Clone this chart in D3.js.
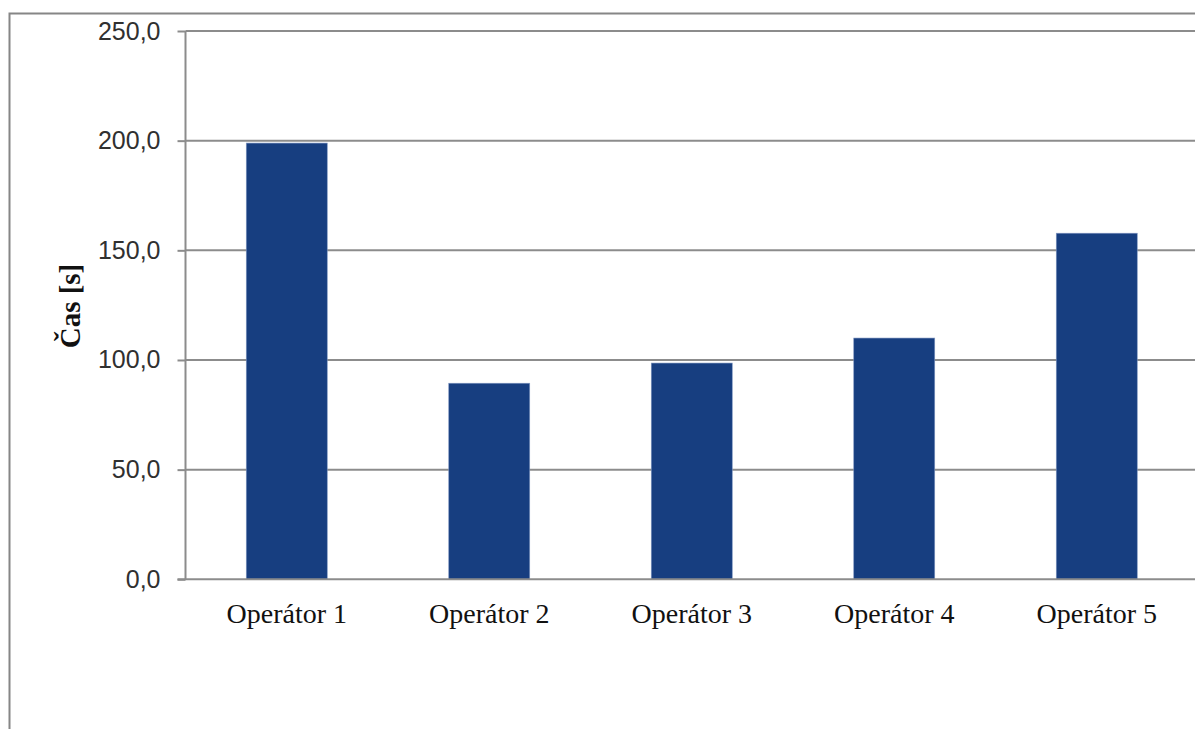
<!DOCTYPE html>
<html><head><meta charset="utf-8">
<script src="https://cdn.jsdelivr.net/npm/d3@7"></script>
<style>html,body{margin:0;padding:0;background:#fff;overflow:hidden}</style>
</head><body>
<svg id="c" width="1195" height="729"></svg>
<script>
const categories = ["Operátor 1","Operátor 2","Operátor 3","Operátor 4","Operátor 5"];
const values = [198.9, 89.4, 98.6, 110.0, 157.8];
const yTicks = [0, 50, 100, 150, 200, 250];
const yTitle = "Čas [s]";

const svg = d3.select("#c");
const pLeft = 185.5, pRight = 1198, pTop = 31, pBottom = 579.3;

svg.append("rect").attr("x",9.5).attr("y",13.5).attr("width",1200).attr("height",730)
  .attr("fill","#fff").attr("stroke","#868686").attr("stroke-width",2);

const x = d3.scaleBand().domain(categories).range([pLeft,pRight]).paddingInner(0.6).paddingOuter(0.3);
const y = d3.scaleLinear().domain([0,250]).range([pBottom,pTop]);

// gridlines
svg.append("g").selectAll("line").data(yTicks.filter(d=>d>0)).join("line")
  .attr("x1",pLeft).attr("x2",1195).attr("y1",d=>y(d)).attr("y2",d=>y(d))
  .attr("stroke","#8c8c8c").attr("stroke-width",2);

// bars
svg.append("g").selectAll("rect").data(values).join("rect")
  .attr("x",(d,i)=>x(categories[i])).attr("width",x.bandwidth())
  .attr("y",d=>y(d)).attr("height",d=>y(0)-y(d))
  .attr("fill","#173e80").attr("stroke","#7f95c0").attr("stroke-width",0.6);

// y axis
const fmt = d => d3.format(".1f")(d).replace(".", ",");
const ya = svg.append("g").attr("transform",`translate(${pLeft},0)`)
  .call(d3.axisLeft(y).tickValues(yTicks).tickFormat(fmt).tickSize(8).tickPadding(17));
ya.select(".domain").attr("stroke","#8c8c8c").attr("stroke-width",2).attr("d",`M0,${pTop}V${pBottom}`);
ya.selectAll(".tick line").attr("stroke","#8c8c8c").attr("stroke-width",2);
ya.selectAll(".tick text").attr("font-family","Liberation Sans, Arial, sans-serif").attr("font-size",25).attr("fill","#303030");

// x axis
const xa = svg.append("g").attr("transform",`translate(0,${pBottom})`)
  .call(d3.axisBottom(x).tickSize(0).tickPadding(24));
xa.select(".domain").attr("stroke","#8c8c8c").attr("stroke-width",2).attr("d",`M${pLeft-8},0H1195`);
xa.selectAll(".tick text").attr("font-family","Liberation Serif, Times New Roman, serif").attr("font-size",28).attr("fill","#111");

// y title
svg.append("text").attr("transform","translate(80,306) rotate(-90)")
  .attr("text-anchor","middle").attr("font-family","Liberation Serif, Times New Roman, serif")
  .attr("font-weight","bold").attr("font-size",29).attr("fill","#111").text(yTitle);
</script>
</body></html>
